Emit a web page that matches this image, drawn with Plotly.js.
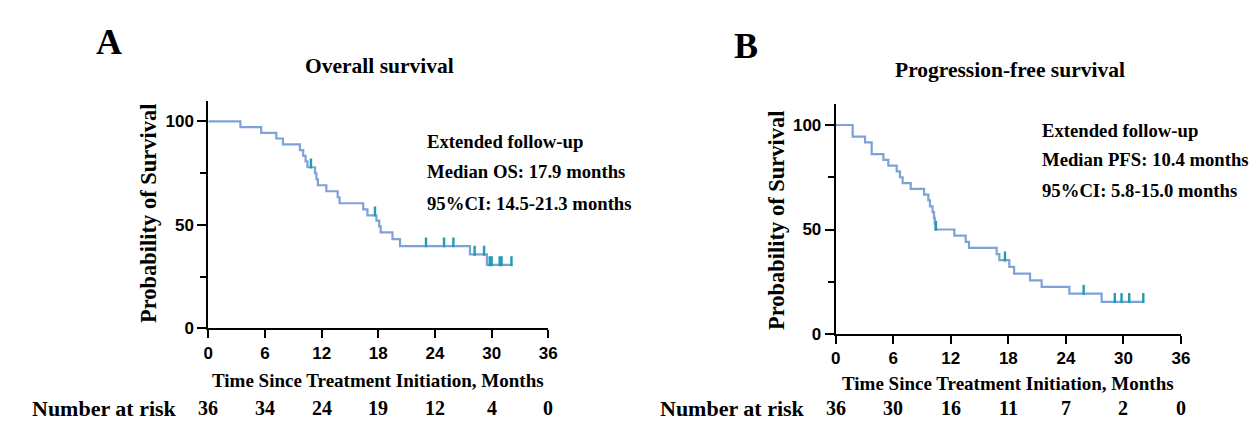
<!DOCTYPE html>
<html>
<head>
<meta charset="utf-8">
<script src="https://cdn.plot.ly/plotly-3.0.1.min.js"></script>
<style>html,body{margin:0;padding:0;background:#fff;}#chart{width:1254px;height:434px;}</style>
</head>
<body>
<div id="chart"></div>
<script>
// ---------- Data ----------
// Overall survival (panel A): step times (months) and survival (%)
const osTimes = [0, 3.4, 5.6, 7.2, 7.9, 9.7, 10.05, 10.3, 10.5, 11.3, 11.45, 11.6, 12.5, 13.7, 13.9, 16.4, 16.85, 17.8, 18.1, 18.25, 19.5, 20.3, 27.7, 29.5, 32.2];
const osSurv  = [100, 97.2, 94.4, 91.7, 88.9, 86.1, 83.3, 80.6, 77.8, 74.9, 72.0, 69.1, 66.2, 63.3, 60.4, 57.5, 54.6, 52.0, 49.2, 46.3, 43.1, 39.7, 35.7, 30.6, 30.6];
const osCensorTimes = [10.87, 17.65, 23.05, 24.96, 25.95, 28.2, 29.2, 29.8, 30.0, 30.85, 31.05, 32.1];
const osCensorSurv  = [77.8, 54.6, 39.7, 39.7, 39.7, 35.7, 35.7, 30.6, 30.6, 30.6, 30.6, 30.6];

// Progression-free survival (panel B)
const pfsTimes = [0, 1.77, 3.06, 3.75, 4.97, 5.49, 6.36, 6.7, 6.98, 7.82, 9.21, 9.66, 9.83, 10.1, 10.25, 10.33, 10.4, 12.37, 13.55, 13.9, 16.78, 17.06, 18.1, 18.6, 20.26, 21.47, 24.36, 27.73, 32.07];
const pfsSurv  = [100, 94.4, 91.7, 86.1, 83.3, 80.6, 77.8, 75.0, 72.2, 69.4, 66.7, 63.9, 61.1, 58.3, 55.6, 52.8, 50.0, 47.1, 44.1, 41.2, 38.2, 35.3, 32.1, 28.9, 25.7, 22.5, 19.3, 15.4, 15.4];
const pfsCensorTimes = [10.45, 17.65, 25.85, 29.1, 29.8, 30.6, 32.07];
const pfsCensorSurv  = [50.0, 35.3, 19.3, 15.4, 15.4, 15.4, 15.4];

// Tick labels and numbers at risk
const xTickVals = [0, 6, 12, 18, 24, 30, 36];
const yTickVals = [0, 50, 100];
const osAtRisk  = [36, 34, 24, 19, 12, 4, 0];
const pfsAtRisk = [36, 30, 16, 11, 7, 2, 0];

const osTitle = "Overall survival";
const pfsTitle = "Progression-free survival";
const xTitle = "Time Since Treatment Initiation, Months";
const yTitle = "Probability of Survival";
const osNotes = ["Extended follow-up", "Median OS: 17.9 months", "95%CI: 14.5-21.3 months"];
const pfsNotes = ["Extended follow-up", "Median PFS: 10.4 months", "95%CI: 5.8-15.0 months"];

// ---------- Styling / layout ----------
const W = 1254, H = 434;
const px = v => v / W;
const py = v => (H - v) / H;
const serif = "Liberation Serif, Times New Roman, serif";
const sans = "Liberation Sans Narrow, Liberation Sans, Arial, sans-serif";
const curveColor = "#7ea2d8";
const censorColor = "#1f9bb3";
const censorUp = 4.2, censorDown = 0.6;

function censorTrace(times, surv, xa, ya) {
  const xs = [], ys = [];
  times.forEach((t, i) => { xs.push(t, t, null); ys.push(surv[i] - censorDown, surv[i] + censorUp, null); });
  return {x: xs, y: ys, xaxis: xa, yaxis: ya, mode: "lines", line: {color: censorColor, width: 2.4}, hoverinfo: "skip", showlegend: false};
}

const traces = [
  {x: osTimes, y: osSurv, xaxis: "x", yaxis: "y", mode: "lines", line: {shape: "hv", color: curveColor, width: 2.2}, showlegend: false},
  censorTrace(osCensorTimes, osCensorSurv, "x", "y"),
  {x: pfsTimes, y: pfsSurv, xaxis: "x2", yaxis: "y2", mode: "lines", line: {shape: "hv", color: curveColor, width: 2.2}, showlegend: false},
  censorTrace(pfsCensorTimes, pfsCensorSurv, "x2", "y2")
];

function xAxis(domain, anchor) {
  return {domain: domain, anchor: anchor, range: [0, 36], tickvals: xTickVals, ticks: "outside", ticklen: 8, tickwidth: 2,
    tickcolor: "#000", showline: true, linecolor: "#000", linewidth: 2, showgrid: false, zeroline: false,
    tickfont: {family: sans, size: 17, color: "#000", weight: "bold"}, fixedrange: true};
}
function yAxis(domain, anchor) {
  return {domain: domain, anchor: anchor, range: [0, 110], tickvals: yTickVals, ticks: "outside", ticklen: 9, tickwidth: 2,
    tickcolor: "#000", showline: true, linecolor: "#000", linewidth: 2, showgrid: false, zeroline: false,
    minor: {tickvals: [25, 75], ticks: "outside", ticklen: 6, tickwidth: 2, tickcolor: "#000", showgrid: false},
    tickfont: {family: sans, size: 17, color: "#000", weight: "bold"}, fixedrange: true};
}

const ann = [];
function txt(text, x, y, size, opts) {
  ann.push(Object.assign({text: text, x: x, y: y, xref: "paper", yref: "paper", showarrow: false,
    font: {family: serif, size: size, color: "#000", weight: "bold"}, xanchor: "center", yanchor: "middle"}, opts || {}));
}
// Panel letters and titles
txt("A", px(109), py(42), 36);
txt("B", px(746), py(46), 36);
txt(osTitle, px(379), py(66), 21.5);
txt(pfsTitle, px(1010), py(70), 21.5);
// Axis titles
txt(xTitle, px(378), py(380), 19);
txt(xTitle, px(1008), py(383), 19);
txt(yTitle, px(148), py(213), 22.5, {textangle: -90});
txt(yTitle, px(776), py(220), 22.5, {textangle: -90});
// Inner notes
osNotes.forEach((s, i) => txt(s, px(425), py(141 + 31 * i), 18.7, {xanchor: "left"}));
pfsNotes.forEach((s, i) => txt(s, px(1040), py(130 + 30 * i), 18.7, {xanchor: "left"}));
// Number at risk
txt("Number at risk", px(30), py(408), 22, {xanchor: "left"});
txt("Number at risk", px(658), py(408), 22, {xanchor: "left"});
xTickVals.forEach((t, i) => {
  ann.push({text: String(osAtRisk[i]), x: t, xref: "x", y: py(408), yref: "paper", showarrow: false,
    font: {family: serif, size: 20, color: "#000", weight: "bold"}, xanchor: "center", yanchor: "middle"});
  ann.push({text: String(pfsAtRisk[i]), x: t, xref: "x2", y: py(408), yref: "paper", showarrow: false,
    font: {family: serif, size: 20, color: "#000", weight: "bold"}, xanchor: "center", yanchor: "middle"});
});

const layout = {
  width: W, height: H, margin: {l: 0, r: 0, t: 0, b: 0},
  paper_bgcolor: "#fff", plot_bgcolor: "#fff", showlegend: false,
  xaxis: xAxis([px(208.3), px(548.3)], "y"),
  yaxis: yAxis([py(328.3), py(100.6)], "x"),
  xaxis2: xAxis([px(835.7), px(1181)], "y2"),
  yaxis2: yAxis([py(334), py(104.1)], "x2"),
  annotations: ann
};

Plotly.newPlot("chart", traces, layout, {staticPlot: true, displayModeBar: false});
</script>
</body>
</html>
